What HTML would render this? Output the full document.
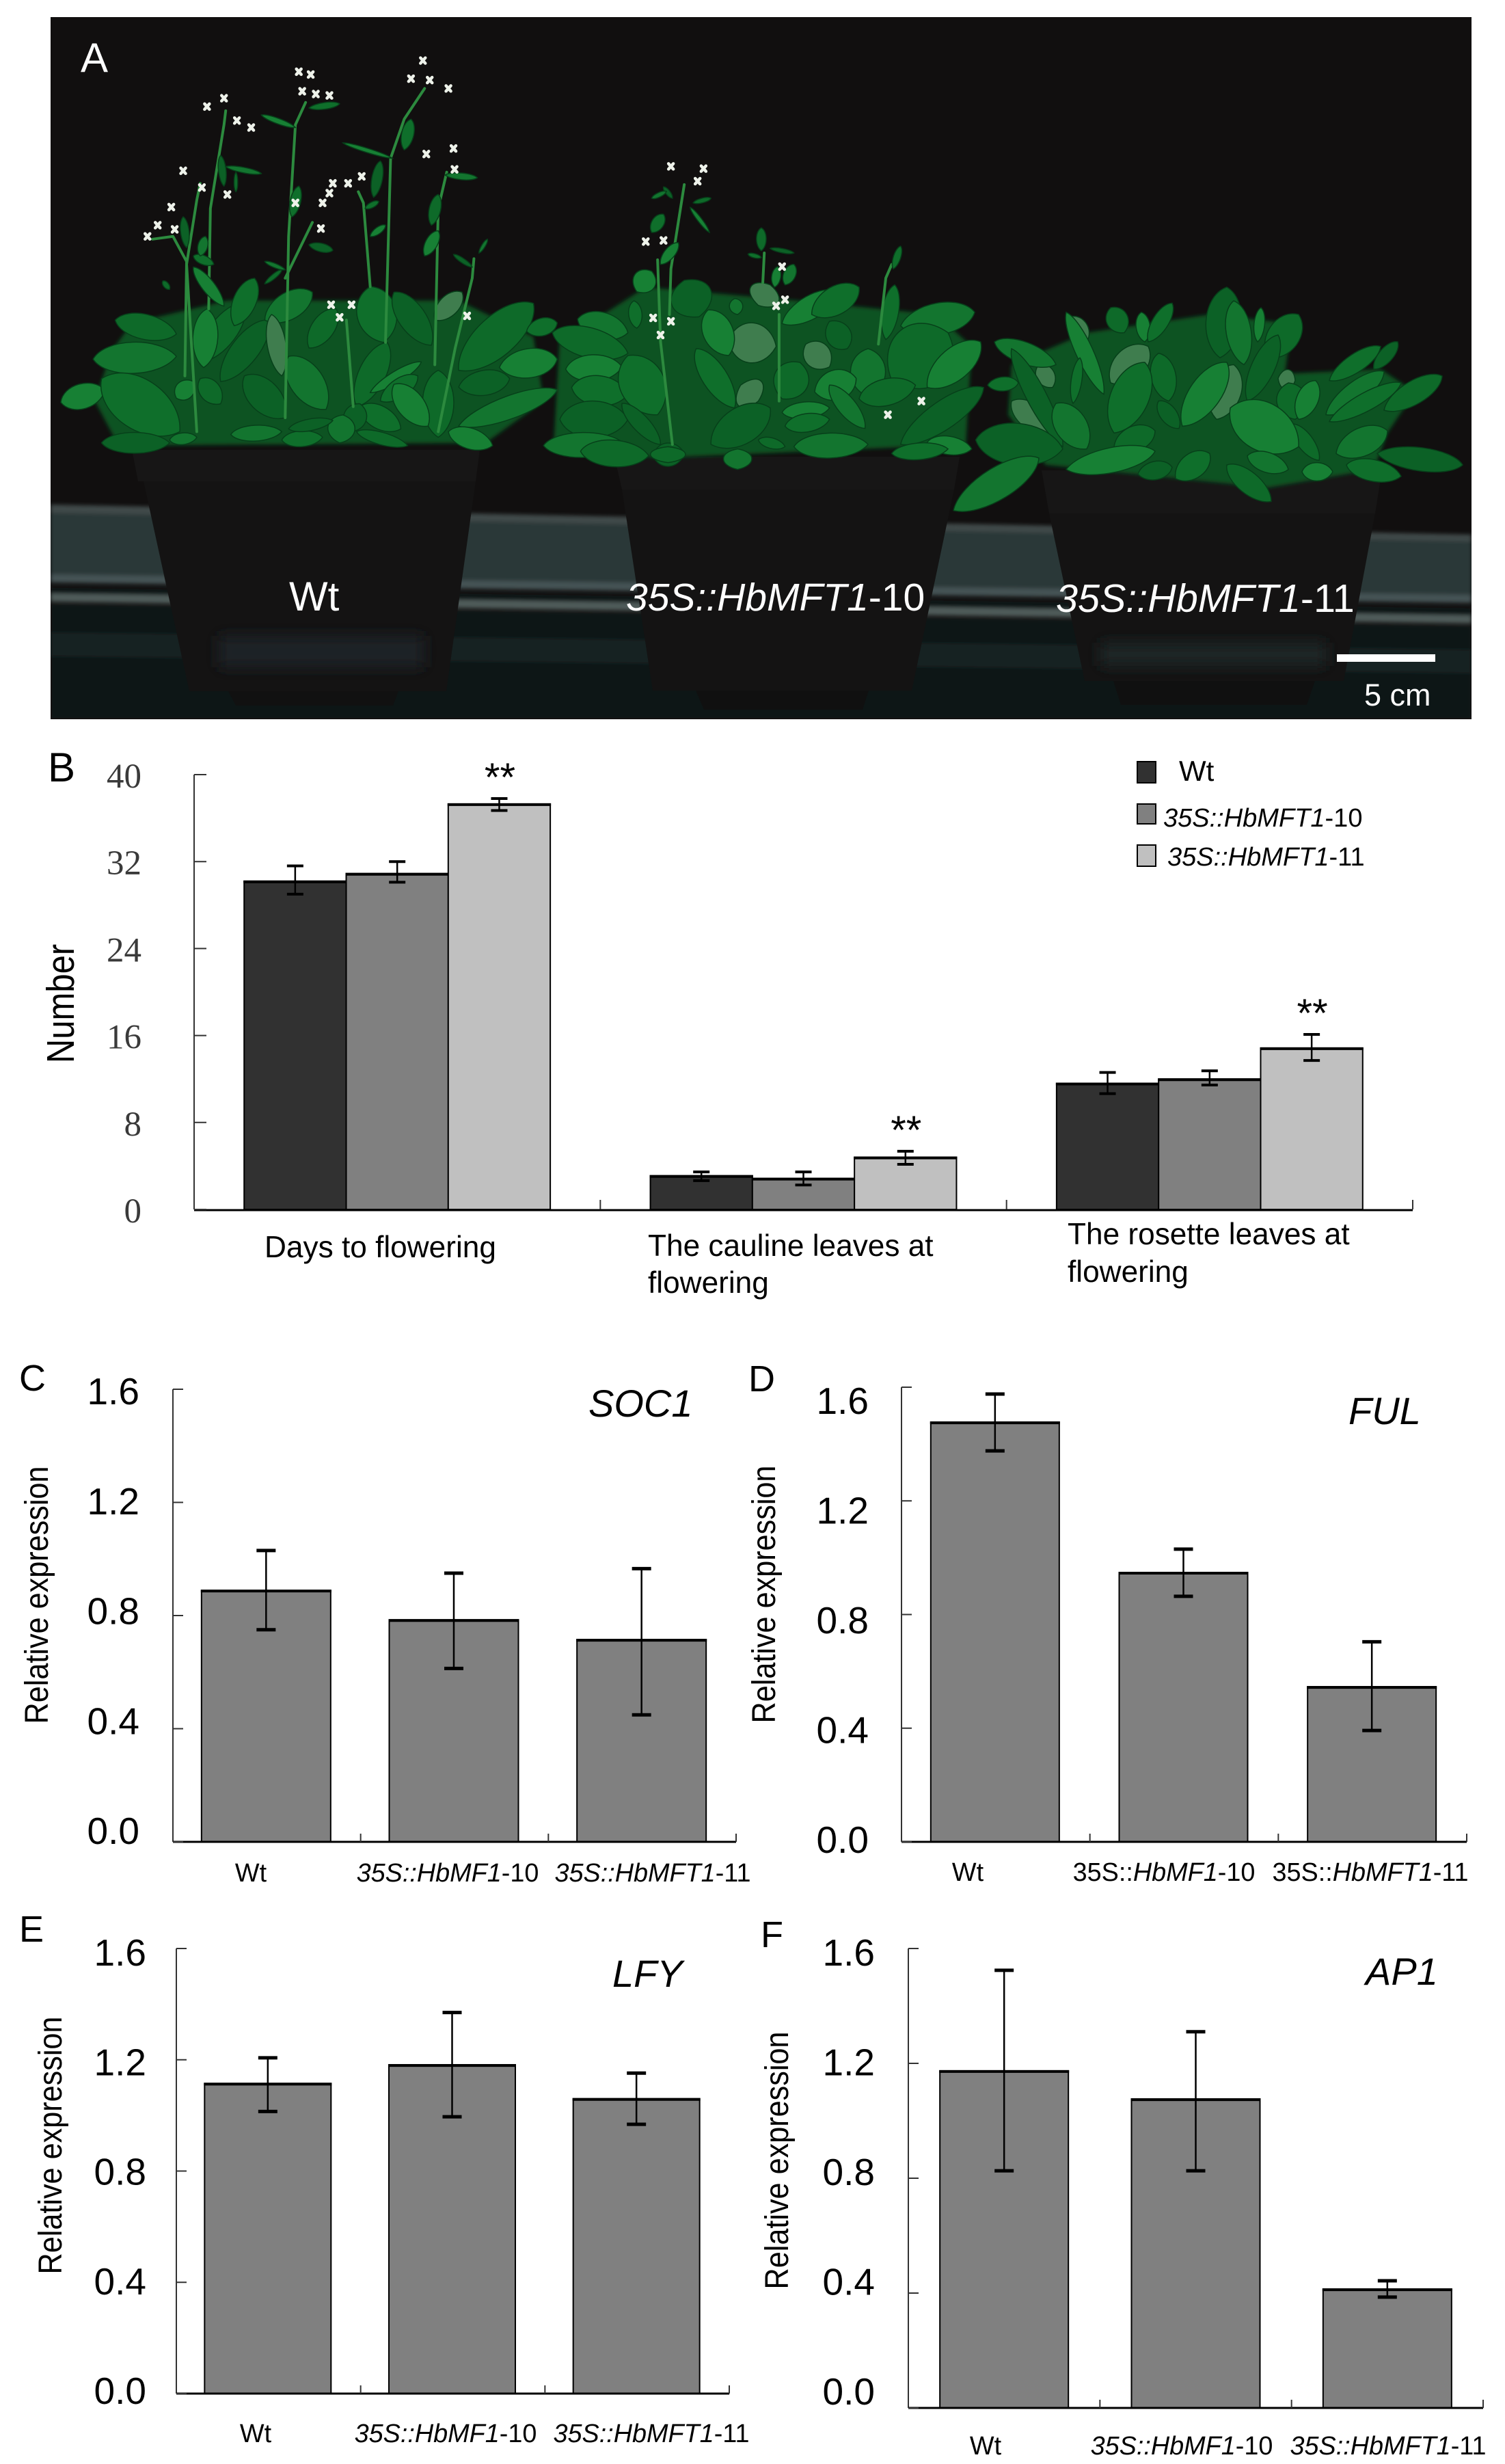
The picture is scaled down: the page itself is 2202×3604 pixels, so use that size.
<!DOCTYPE html>
<html lang="en">
<head>
<meta charset="utf-8">
<title>HbMFT1 phenotype and expression figure</title>
<style>
  html, body { margin: 0; padding: 0; background: #fff; }
  svg { display: block; }
  text { font-family: "Liberation Sans", sans-serif; }
</style>
</head>
<body>
<svg id="figure" xmlns="http://www.w3.org/2000/svg" width="2202" height="3604" viewBox="0 0 2202 3604">
  <defs>
    <clipPath id="photo-clip"><rect x="74" y="25" width="2079" height="1027"/></clipPath>
    <filter id="soft" x="-10%" y="-30%" width="120%" height="160%"><feGaussianBlur stdDeviation="3"/></filter>
    <filter id="softer" x="-20%" y="-60%" width="140%" height="220%"><feGaussianBlur stdDeviation="10"/></filter>
  </defs>
  <rect width="2202" height="3604" fill="#ffffff"/>

  <g id="photo" clip-path="url(#photo-clip)">
    <rect x="74" y="25" width="2079" height="1027" fill="#110f0f"/>
    <g filter="url(#soft)">
      <polygon points="74,738 2153,782 2153,872 74,842" fill="#2b3738"/>
      <polygon points="74,738 2153,782 2153,792 74,750" fill="#3f4a49"/>
      <polygon points="74,858 2153,888 2153,904 74,872" fill="#0e1417"/>
      <polygon points="74,840 2153,870 2153,882 74,852" fill="#445254"/>
      <polygon points="74,868 2153,900 2153,912 74,880" fill="#505c5a"/>
      <polygon points="74,884 2153,916 2153,1052 74,1052" fill="#0f1314"/>
      <polygon points="74,925 2153,950 2153,985 74,960" fill="#182124"/>
    </g>
    <g id="pots">
      <g>
        <polygon points="210,704 696,704 653,1011 277,1011" fill="#141313"/>
        <polygon points="334,1011 583,1011 575,1032 345,1032" fill="#111111"/>
        <polygon points="193,658 702,658 696,704 202,704" fill="#171616"/>
        <rect x="320" y="930" width="300" height="46" fill="#1c2427" filter="url(#softer)"/>
      </g>
      <g>
        <polygon points="910,716 1396,716 1334,1010 955,1010" fill="#141313"/>
        <polygon points="1018,1010 1271,1010 1262,1038 1030,1038" fill="#101010"/>
        <polygon points="899,668 1404,668 1396,716 910,716" fill="#171616"/>
      </g>
      <g>
        <polygon points="1535,751 2012,751 1966,996 1587,996" fill="#141313"/>
        <polygon points="1629,996 1924,996 1912,1031 1640,1031" fill="#101010"/>
        <polygon points="1524,688 2022,688 2012,751 1535,751" fill="#171616"/>
        <rect x="1610" y="940" width="330" height="34" fill="#1e2527" filter="url(#softer)"/>
      </g>
    </g>
    <g id="plants"></g>
    <text x="118" y="105" font-size="60" fill="#ffffff">A</text>
    <text x="423" y="893" font-size="60" fill="#ffffff">Wt</text>
    <text x="916" y="893" font-size="57" fill="#ffffff"><tspan font-style="italic">35S::HbMFT1</tspan>-10</text>
    <text x="1545" y="895" font-size="57.5" fill="#ffffff"><tspan font-style="italic">35S::HbMFT1</tspan>-11</text>
    <rect x="1956" y="957" width="144" height="11" fill="#ffffff"/>
    <text x="1996" y="1032" font-size="45" fill="#ffffff">5 cm</text>
  </g>

  <text x="70" y="1143" font-size="60" fill="#000">B</text>
  <text x="28" y="2034" font-size="54" fill="#000">C</text>
  <text x="1095" y="2035" font-size="54" fill="#000">D</text>
  <text x="28" y="2840" font-size="54" fill="#000">E</text>
  <text x="1113" y="2848" font-size="54" fill="#000">F</text>

  <g id="chart-b"></g>
  <g id="chart-c"></g>
  <g id="chart-d"></g>
  <g id="chart-e"></g>
  <g id="chart-f"></g>
</svg>

<script>
/* ---------- Chart data ---------- */
const bCategoryLines = [["Days to flowering"], ["The cauline leaves at", "flowering"], ["The rosette leaves at", "flowering"]];
const bSeriesNames = ["Wt", "35S::HbMFT1-10", "35S::HbMFT1-11"];
const bWtValues = [30.2, 3.1, 11.6];
const bWtHigh = [31.6, 3.45, 12.6];
const bWtLow = [29.0, 2.65, 10.65];
const b10Values = [30.9, 2.85, 12.0];
const b10High = [32.0, 3.45, 12.75];
const b10Low = [30.1, 2.25, 11.45];
const b11Values = [37.3, 4.8, 14.85];
const b11High = [37.8, 5.35, 16.1];
const b11Low = [36.7, 4.15, 13.7];
const bSignificance = ["**", "**", "**"];
const bTicks = [0, 8, 16, 24, 32, 40];
const bTickLabels = ["0", "8", "16", "24", "32", "40"];

const exprTicks = [0, 0.4, 0.8, 1.2, 1.6];
const exprTickLabels = ["0.0", "0.4", "0.8", "1.2", "1.6"];
const exprCategories = ["Wt", "35S::HbMF1-10", "35S::HbMFT1-11"];

const soc1Values = [0.889, 0.785, 0.715];
const soc1High = [1.03, 0.95, 0.966];
const soc1Low = [0.75, 0.613, 0.449];

const fulValues = [1.477, 0.948, 0.546];
const fulHigh = [1.576, 1.03, 0.704];
const fulLow = [1.376, 0.864, 0.392];

const lfyValues = [1.115, 1.182, 1.06];
const lfyHigh = [1.207, 1.37, 1.152];
const lfyLow = [1.014, 0.995, 0.968];

const ap1Values = [1.174, 1.076, 0.414];
const ap1High = [1.524, 1.31, 0.443];
const ap1Low = [0.826, 0.826, 0.386];

/* ---------- SVG helpers ---------- */
const NS = "http://www.w3.org/2000/svg";
function shape(parent, tag, name, props) {
  const el = document.createElementNS(NS, tag);
  
  
  for (const k in props) el.setAttribute(k, props[k]);
  parent.appendChild(el);
  return el;
}
function label(parent, name, str, props) {
  const el = shape(parent, "text", name, props);
  el.textContent = str;
  return el;
}
function lineLabel(parent, name, str, props, upright35S) {
  const el = shape(parent, "text", name, props);
  const m = str.match(/^(35S::)(.+)(-\d+)$/);
  if (!m) { el.textContent = str; return el; }
  if (upright35S) {
    el.appendChild(document.createTextNode(m[1]));
    const it = document.createElementNS(NS, "tspan");
    it.setAttribute("font-style", "italic");
    it.textContent = m[2];
    el.appendChild(it);
  } else {
    const it = document.createElementNS(NS, "tspan");
    it.setAttribute("font-style", "italic");
    it.textContent = m[1] + m[2];
    el.appendChild(it);
  }
  el.appendChild(document.createTextNode(m[3]));
  return el;
}
function errorBar(g, x, yHigh, yLow, capW, sw, capH) {
  shape(g, "line", "error-bar-stem", { x1: x, x2: x, y1: yHigh, y2: yLow, stroke: "#000", "stroke-width": sw });
  shape(g, "line", "error-bar-cap-high", { x1: x - capW / 2, x2: x + capW / 2, y1: yHigh, y2: yHigh, stroke: "#000", "stroke-width": capH });
  shape(g, "line", "error-bar-cap-low", { x1: x - capW / 2, x2: x + capW / 2, y1: yLow, y2: yLow, stroke: "#000", "stroke-width": capH });
}
function bar(g, name, x, y, w, baseY, fill) {
  shape(g, "rect", name, { x: x, y: y, width: w, height: baseY - y, fill: fill, stroke: "#000", "stroke-width": 2 });
  shape(g, "line", name + "-top-edge", { x1: x - 1, x2: x + w + 1, y1: y + 1, y2: y + 1, stroke: "#000", "stroke-width": 4 });
}

/* ---------- Panel B ---------- */
(function () {
  const g = document.getElementById("chart-b");
  const x0 = 284, x1 = 2067, y0 = 1769, yTop = 1133, domainMax = 40, barW = 149.3;
  const y = v => y0 - (y0 - yTop) * v / domainMax;
  const tickLabelY = v => 1771 - (1771 - 1135) * v / domainMax;
  const band = (x1 - x0) / bCategoryLines.length;
  const fills = ["#313131", "#808080", "#c0c0c0"];
  const values = [bWtValues, b10Values, b11Values];
  const highs = [bWtHigh, b10High, b11High];
  const lows = [bWtLow, b10Low, b11Low];

  bCategoryLines.forEach((_, c) => {
    const center = x0 + band * (c + 0.5);
    values.forEach((series, s) => {
      const bx = center - 1.5 * barW + s * barW;
      bar(g, "bar-group-" + (c + 1) + "-series-" + (s + 1), bx, y(series[c]), barW, y0, fills[s]);
      errorBar(g, bx + barW / 2, y(highs[s][c]), y(lows[s][c]), 24, 2.5, 4);
    });
    label(g, "significance-marker", bSignificance[c], {
      x: center + barW + 1, y: y(b11High[c]) - 11, "text-anchor": "middle", "font-size": 58, fill: "#000"
    });
  });

  shape(g, "line", "y-axis", { x1: x0, x2: x0, y1: yTop, y2: y0, stroke: "#333", "stroke-width": 2 });
  shape(g, "line", "x-axis", { x1: x0, x2: x1, y1: y0 + 1, y2: y0 + 1, stroke: "#000", "stroke-width": 3 });
  bTicks.forEach((t, i) => {
    shape(g, "line", "y-tick", { x1: x0, x2: x0 + 18, y1: y(t), y2: y(t), stroke: "#333", "stroke-width": 2 });
    const el = label(g, "y-tick-label", bTickLabels[i], {
      x: 207, y: tickLabelY(t) + 17, "text-anchor": "end", "font-size": 51, fill: "#3a3a3a"
    });
    el.style.fontFamily = '"Liberation Serif", serif';
  });
  for (let i = 1; i <= bCategoryLines.length; i++) {
    const tx = x0 + band * i;
    shape(g, "line", "x-tick", { x1: tx, x2: tx, y1: y0, y2: y0 - 14, stroke: "#333", "stroke-width": 2 });
  }
  label(g, "y-axis-title", "Number", {
    transform: "translate(108,1468) rotate(-90) scale(.86,1)", "text-anchor": "middle", "font-size": 57, fill: "#000"
  });
  const catX = [387, 948, 1562];
  const catY = [[1839], [1837, 1891], [1820, 1875]];
  bCategoryLines.forEach((lines, c) => {
    lines.forEach((ln, j) => {
      label(g, "x-category-label", ln, { x: catX[c], y: catY[c][j], "font-size": 44.2, fill: "#000" });
    });
  });

  const legendRows = [{ ys: 1114, h: 31, tx: 1725, ty: 1142, fs: 42 }, { ys: 1176, h: 29, tx: 1702, ty: 1209, fs: 38 }, { ys: 1236, h: 31, tx: 1708, ty: 1266, fs: 38 }];
  bSeriesNames.forEach((nm, s) => {
    const r = legendRows[s];
    shape(g, "rect", "legend-swatch", { x: 1664, y: r.ys, width: 27, height: r.h, fill: fills[s], stroke: "#000", "stroke-width": 2 });
    lineLabel(g, "legend-entry", nm, { x: r.tx, y: r.ty, "font-size": r.fs, fill: "#000" }, false);
  });
})();

/* ---------- Panels C–F ---------- */
function expressionPanel(id, layout, values, highs, lows, title) {
  const g = document.getElementById(id);
  const L = layout;
  const y = v => L.y0 - (L.y0 - L.yTop) * v / 1.6;
  const tickLabelY = v => L.lab0 - (L.lab0 - L.labTop) * v / 1.6;
  const band = (L.x1 - L.x0) / exprCategories.length;

  exprCategories.forEach((cat, i) => {
    const center = L.x0 + band * (i + 0.5) + L.shift;
    bar(g, "bar-" + (i + 1), center - L.barW / 2, y(values[i]), L.barW, L.y0, "#808080");
    errorBar(g, center, y(highs[i]), y(lows[i]), 28, 2.5, 5);
    lineLabel(g, "x-category-label", cat, {
      x: L.catX[i], y: L.catY, "text-anchor": "middle", "font-size": 37.8, fill: "#000"
    }, L.upright);
  });

  shape(g, "line", "y-axis", { x1: L.x0, x2: L.x0, y1: L.yTop, y2: L.y0, stroke: "#333", "stroke-width": 2 });
  shape(g, "line", "x-axis", { x1: L.x0, x2: L.x1, y1: L.y0, y2: L.y0, stroke: "#000", "stroke-width": 3 });
  exprTicks.forEach((t, i) => {
    shape(g, "line", "y-tick", { x1: L.x0, x2: L.x0 + 15, y1: y(t), y2: y(t), stroke: "#333", "stroke-width": 2 });
    label(g, "y-tick-label", exprTickLabels[i], {
      x: L.tickX, y: tickLabelY(t) + 16, "text-anchor": "end", "font-size": 55, fill: "#000"
    });
  });
  for (let i = 1; i <= exprCategories.length; i++) {
    const tx = L.x0 + band * i;
    shape(g, "line", "x-tick", { x1: tx, x2: tx, y1: L.y0, y2: L.y0 - 12, stroke: "#333", "stroke-width": 2 });
  }
  label(g, "y-axis-title", "Relative expression", {
    transform: "translate(" + L.titleX + "," + L.titleY + ") rotate(-90) scale(.9,1)",
    "text-anchor": "middle", "font-size": 48, fill: "#000"
  });
  label(g, "gene-title", title, { x: L.geneX, y: L.geneY, "font-size": 56, "font-style": "italic", fill: "#000" });
}

const layoutC = { x0: 253, x1: 1077, shift: -1, y0: 2694, yTop: 2032, barW: 189, lab0: 2681, labTop: 2038, tickX: 204, catX: [367, 655, 955], catY: 2752, titleX: 70, titleY: 2333, geneX: 861, geneY: 2072, upright: false };
const layoutD = { x0: 1319, x1: 2146, shift: -1, y0: 2694, yTop: 2029, barW: 188, lab0: 2694, labTop: 2052, tickX: 1271, catX: [1416, 1703, 2005], catY: 2751, titleX: 1134, titleY: 2332, geneX: 1973, geneY: 2083, upright: true };
const layoutE = { x0: 258, x1: 1067, shift: -1, y0: 3501, yTop: 2850, barW: 185, lab0: 3500, labTop: 2859, tickX: 214, catX: [374, 652, 953], catY: 3572, titleX: 90, titleY: 3138, geneX: 896, geneY: 2906, upright: false };
const layoutF = { x0: 1329, x1: 2170, shift: 0, y0: 3522, yTop: 2850, barW: 188, lab0: 3501, labTop: 2859, tickX: 1280, catX: [1442, 1729, 2031], catY: 3590, titleX: 1153, titleY: 3160, geneX: 1998, geneY: 2903, upright: false };

expressionPanel("chart-c", layoutC, soc1Values, soc1High, soc1Low, "SOC1");
expressionPanel("chart-d", layoutD, fulValues, fulHigh, fulLow, "FUL");
expressionPanel("chart-e", layoutE, lfyValues, lfyHigh, lfyLow, "LFY");
expressionPanel("chart-f", layoutF, ap1Values, ap1High, ap1Low, "AP1");

/* ---------- Photo plants ---------- */
const leafShades = ["#13752f", "#0e6a29", "#178034", "#0f6f2b", "#0c6126"];
const plantSpecs = [
  {
    name: "plant-wt", ox: 74, oy: 60, sx: 2.01, sy: 2.45, ws: 1.6,
    base: "130,1290 180,1110 240,1010 520,930 1200,930 1420,1060 1450,1290 1280,1440 200,1450",
    leaves: [
      [370,1130,125,1140,75],[370,1050,190,1000,60],[160,1250,30,1295,60],[380,1400,150,1210,120],[350,1440,150,1440,50],[430,1420,350,1430,28],
      [440,1150,570,940,65],[450,1170,460,960,60],[540,1020,600,850,55],[500,1220,640,1000,65],[630,1000,770,900,65],[760,1100,840,960,55],
      [680,1200,650,980,45,1],[980,1080,940,880,95],[1120,1090,1010,900,65],[1130,1000,1210,900,48,1],[1200,1180,1420,940,95],[1320,1170,1490,1140,70],[1400,1040,1490,1010,42],
      [690,1350,570,1200,75],[810,1320,700,1130,80],[900,1310,990,1080,65],[940,1260,1090,1150,28],[970,1290,1080,1200,45],[1200,1240,1350,1210,60],[1200,1380,1490,1250,55],
      [1140,1420,1140,1180,75],[1110,1380,1010,1230,65],[1030,1390,910,1310,55],[880,1400,910,1300,55],[850,1440,860,1340,65],[1050,1450,900,1400,30],[1300,1450,1170,1400,50],
      [800,1420,680,1430,38],[830,1360,700,1390,28],[680,1400,530,1410,38],[500,1300,440,1210,50],[420,1220,370,1280,45]
    ],
    stems: ["430,1400 410,1000 400,800 430,570 440,510","465,960 470,600 510,300 515,250","395,1200 400,790 360,700 300,710","690,1350 700,700 720,300 750,220","690,850 770,650","985,1080 1000,420 1040,280 1100,170","940,880 920,580 905,540","1130,1160 1140,600 1165,470","1140,1400 1190,1100 1240,850 1245,780","890,1310 870,1000"],
    upper: [
      [720,310,620,265,18],[760,240,850,225,22],[510,520,500,410,25],[515,450,620,475,18],[545,470,545,540,12],[1005,420,860,365,14],[1040,390,1060,280,40],[950,560,970,430,35],
      [1160,480,1255,490,22],[1120,660,1140,550,38],[1100,770,1140,680,40],[710,630,730,520,35],[760,730,830,750,28],[690,820,630,790,14],[630,870,680,820,15],
      [510,950,420,810,42],[480,800,420,770,30],[400,740,390,630,28],[440,770,455,700,32],[350,890,330,860,18],[940,700,985,660,22],[925,600,965,575,18],[1240,810,1185,765,15],[1260,760,1285,710,12]
    ],
    flowers: [[1095,70],[1115,140],[1060,135],[1170,170],[740,180],[780,190],[820,195],[730,110],[765,120],[510,205],[460,235],[548,285],[590,310],[445,525],[390,465],[520,550],[315,660],[365,675],[355,595],[285,700],[875,510],[830,510],[915,485],[1105,405],[1185,385],[1188,460],[720,580],[800,580],[820,545],[795,672],[850,990],[825,945],[885,945],[1225,985]]
  },
  {
    name: "plant-10", ox: 780, oy: 220, sx: 2.306, sy: 3, ws: 2,
    base: "70,1280 90,820 200,750 380,600 900,660 1360,720 1480,860 1460,1290 420,1350",
    leaves: [
      [320,800,150,740,80],[320,890,65,800,90],[300,950,110,960,80],[320,1070,130,1040,90],[320,1180,90,1180,110],[310,1290,35,1295,75],[390,1340,160,1320,80],
      [350,620,400,530,70],[350,780,340,660,40],[560,730,510,570,125],[690,720,680,650,40],[760,680,800,590,95,1],[840,760,1030,620,70],[940,720,1100,600,85],
      [820,860,660,830,120,1],[1000,950,920,850,80,1],[700,1030,760,1100,100,1],[660,900,590,700,90],[420,1160,320,900,135],[430,1290,300,1110,50],
      [1240,770,1490,710,95],[1210,1010,1400,800,195],[1330,1040,1510,840,95],[1190,830,1220,590,50],[1000,750,1060,870,75],[1130,1080,1130,870,105],
      [840,1090,900,930,105],[950,1060,1090,1000,90],[680,1130,550,870,75],[600,1290,800,1130,110],[1120,1220,1000,1030,55],[1290,1030,1100,1090,80],
      [1000,1130,840,1150,50],[1000,1180,850,1210,55],[1240,1290,1520,1040,85],[1130,1290,880,1300,75],[850,1300,760,1270,32],[1480,1310,1330,1280,55],[1400,1310,1210,1330,50],
      [510,1330,405,1340,70],[690,1400,690,1310,85],[455,1370,455,1300,105]
    ],
    stems: ["470,1290 430,840 420,480","460,720 465,520 510,150","775,580 780,450","830,1100 830,720","1165,850 1190,560 1210,500"],
    upper: [
      [430,500,490,405,35],[400,360,440,280,40],[470,210,440,160,15],[450,180,400,210,15],[540,230,600,210,15],[595,360,530,250,14],[770,470,725,455,14],[800,430,880,450,14],[850,590,880,500,40],
      [770,440,770,340,32],[815,600,825,510,30],[1215,520,1240,420,24]
    ],
    flowers: [[380,400],[440,395],[555,135],[575,80],[465,70],[850,655],[820,682],[405,735],[465,750],[430,810],[840,510],[1197,1160],[1310,1100]]
  },
  {
    name: "plant-11", ox: 1380, oy: 400, sx: 2, sy: 3, ws: 2,
    base: "300,840 190,620 200,400 420,260 780,180 1020,220 1000,440 1280,420 1380,520 1300,700 1260,860 950,940",
    leaves: [
      [800,640,850,400,95,1],[490,480,600,320,95,1],[420,300,370,190,60,1],[320,500,280,400,55,1],[320,700,200,560,75,1],[330,400,150,300,65],[530,260,490,150,65],[590,300,580,170,42],[600,300,670,130,48],
      [810,370,830,60,105],[880,400,850,120,75],[950,370,1040,180,95],[920,300,930,150,32],[1130,470,1280,320,55],[1260,420,1330,300,42],[1120,620,1290,430,65],[1290,600,1460,450,70],
      [470,530,360,170,52],[380,570,400,370,32],[350,760,200,330,60],[420,770,330,570,95],[660,560,630,350,75],[700,670,830,390,95],[500,700,590,390,115],[890,560,980,270,70],
      [980,460,1030,470,60,1],[1030,640,1010,480,90],[1040,640,1090,470,65],[1130,650,1340,480,55],[690,680,630,560,50],[1150,790,1300,690,85],[1100,820,1020,660,48],[1040,760,840,590,145],
      [130,490,220,480,42],[350,770,95,730,125],[30,1040,280,810,95],[500,760,620,690,75],[360,860,620,780,75],[680,900,780,790,75],[570,880,670,850,55],[1010,860,890,800,60],
      [960,1000,830,840,65],[1140,870,1050,870,55],[1340,890,1180,840,65],[1270,790,1520,840,70]
    ],
    stems: [], upper: [], flowers: []
  }
];

(function () {
  const host = document.getElementById("plants");
  function drawLeaf(g, s, a, i, ws) {
    const x1 = s.ox + a[0] / s.sx, y1 = s.oy + a[1] / s.sy;
    const x2 = s.ox + a[2] / s.sx, y2 = s.oy + a[3] / s.sy;
    const dx = x2 - x1, dy = y2 - y1, len = Math.hypot(dx, dy) || 1;
    const w = a[4] / ws, nx = -dy / len * w * 0.65, ny = dx / len * w * 0.65;
    const d = "M" + x1 + " " + y1 +
      " C" + (x1 + dx * .2 + nx) + " " + (y1 + dy * .2 + ny) + " " + (x1 + dx * .85 + nx) + " " + (y1 + dy * .85 + ny) + " " + x2 + " " + y2 +
      " C" + (x1 + dx * .85 - nx) + " " + (y1 + dy * .85 - ny) + " " + (x1 + dx * .2 - nx) + " " + (y1 + dy * .2 - ny) + " " + x1 + " " + y1 + "Z";
    shape(g, "path", "leaf", { d: d, fill: a[5] ? "#3f7d4e" : leafShades[i % leafShades.length], stroke: "#07401a", "stroke-width": 1.5 });
  }
  plantSpecs.forEach(s => {
    const g = shape(host, "g", s.name, {});
    const toPts = str => str.split(" ").map(p => { const q = p.split(","); return (s.ox + q[0] / s.sx) + "," + (s.oy + q[1] / s.sy); }).join(" ");
    shape(g, "polygon", "foliage-shade", { points: toPts(s.base), fill: "#0a5222", filter: "url(#soft)" });
    s.leaves.forEach((a, i) => drawLeaf(g, s, a, i, s.ws));
    s.stems.forEach(p => shape(g, "polyline", "flower-stem", { points: toPts(p), fill: "none", stroke: "#2c8a3e", "stroke-width": 4, "stroke-linejoin": "round", "stroke-linecap": "round" }));
    s.upper.forEach((a, i) => drawLeaf(g, s, a, i + 2, 2.2));
    s.flowers.forEach(f => {
      const cx = s.ox + f[0] / s.sx, cy = s.oy + f[1] / s.sy;
      shape(g, "path", "flower", { d: "M" + (cx - 3.5) + " " + (cy - 4) + "L" + (cx + 3.5) + " " + (cy + 4) + "M" + (cx + 3.5) + " " + (cy - 4) + "L" + (cx - 3.5) + " " + (cy + 4), stroke: "#eef2ea", "stroke-width": 4.5, "stroke-linecap": "round", fill: "none" });
    });
  });
})();
</script>
</body>
</html>
